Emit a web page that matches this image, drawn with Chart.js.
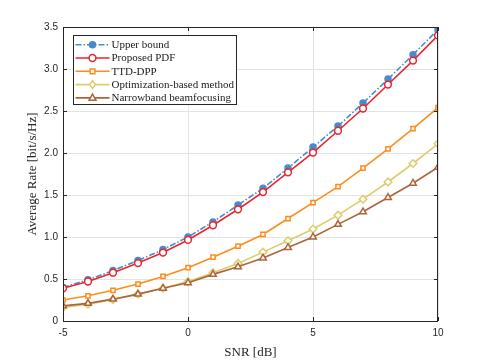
<!DOCTYPE html>
<html>
<head>
<meta charset="utf-8">
<script src="https://cdn.jsdelivr.net/npm/chart.js@4.4.1/dist/chart.umd.min.js"></script>
<style>
  html, body { margin: 0; padding: 0; background: #fff; }
  #wrap { width: 485px; height: 360px; }
</style>
</head>
<body>
<div id="wrap"><canvas id="grafico" width="485" height="360"></canvas></div>
<script>
// Dados (SNR em dB, taxa média em bit/s/Hz)
const SNR = [-5, -4, -3, -2, -1, 0, 1, 2, 3, 4, 5, 6, 7, 8, 9, 10];
const upperBound  = [0.40, 0.49, 0.60, 0.72, 0.85, 1.00, 1.18, 1.38, 1.58, 1.82, 2.07, 2.32, 2.595, 2.88, 3.17, 3.47];
const proposedPDF = [0.39, 0.47, 0.575, 0.69, 0.815, 0.965, 1.14, 1.33, 1.535, 1.77, 2.005, 2.265, 2.53, 2.815, 3.10, 3.40];
const ttdDpp      = [0.25, 0.30, 0.365, 0.44, 0.53, 0.635, 0.76, 0.89, 1.03, 1.22, 1.41, 1.60, 1.82, 2.05, 2.29, 2.54];
const optBased    = [0.16, 0.20, 0.255, 0.32, 0.39, 0.47, 0.575, 0.685, 0.82, 0.955, 1.095, 1.26, 1.45, 1.655, 1.875, 2.11];
const narrowband  = [0.18, 0.21, 0.26, 0.32, 0.39, 0.455, 0.555, 0.645, 0.75, 0.875, 1.00, 1.15, 1.30, 1.47, 1.64, 1.83];

const X_TICKS = [-5, 0, 5, 10];
const Y_TICKS = [0, 0.5, 1, 1.5, 2, 2.5, 3, 3.5];

const SERIF = '"Liberation Serif", "Times New Roman", serif';
const SANS  = '"Liberation Sans", Arial, sans-serif';

const pts = arr => arr.map((v, i) => ({ x: SNR[i], y: v }));

const series = [
  { label: 'Upper bound',               data: upperBound,  cor: '#4a8bc9', marca: 'circle',   raio: 3.0, cheio: true,  traco: [6, 2, 1.5, 2], ordem: 5 },
  { label: 'Proposed PDF',              data: proposedPDF, cor: '#e8262c', marca: 'circle',   raio: 3.4, cheio: false, traco: [],            ordem: 4 },
  { label: 'TTD-DPP',                   data: ttdDpp,      cor: '#ff8c1a', marca: 'rect',     raio: 3.0, cheio: false, traco: [],            ordem: 3 },
  { label: 'Optimization-based method', data: optBased,    cor: '#dccd6c', marca: 'rectRot',  raio: 3.8, cheio: false, traco: [],            ordem: 2 },
  { label: 'Narrowband beamfocusing',   data: narrowband,  cor: '#ac653b', marca: 'triangle', raio: 3.8, cheio: false, traco: [],            ordem: 1 },
];

// desenha o marcador da legenda no mesmo formato dos pontos
function drawMarca(ctx, tipo, r, x, y) {
  if (tipo === 'circle') { ctx.arc(x, y, r, 0, Math.PI * 2); return; }
  if (tipo === 'rect') { ctx.rect(x - r * 0.8, y - r * 0.8, r * 1.6, r * 1.6); return; }
  if (tipo === 'rectRot') {
    ctx.moveTo(x, y - r); ctx.lineTo(x + r * 0.75, y); ctx.lineTo(x, y + r); ctx.lineTo(x - r * 0.75, y); ctx.closePath(); return;
  }
  if (tipo === 'triangle') {
    ctx.moveTo(x, y - r); ctx.lineTo(x + r * 0.9, y + r * 0.6); ctx.lineTo(x - r * 0.9, y + r * 0.6); ctx.closePath();
  }
}

// ── Moldura, marcas internas e legenda (estilo MATLAB) ─────────
const molduraPlugin = {
  id: 'moldura',
  afterDraw(chart) {
    const { ctx, chartArea: a, scales } = chart;
    ctx.save();
    ctx.strokeStyle = '#262626';
    ctx.lineWidth = 1;
    ctx.strokeRect(a.left + 0.5, a.top + 0.5, a.right - a.left - 1, a.bottom - a.top);

    // marcas para dentro
    const L = 4;
    ctx.beginPath();
    X_TICKS.forEach(v => {
      const px = Math.round(scales.x.getPixelForValue(v)) + 0.5;
      ctx.moveTo(px, a.bottom); ctx.lineTo(px, a.bottom - L);
      ctx.moveTo(px, a.top);    ctx.lineTo(px, a.top + L);
    });
    Y_TICKS.forEach(v => {
      const py = Math.round(scales.y.getPixelForValue(v)) + 0.5;
      ctx.moveTo(a.left, py);  ctx.lineTo(a.left + L, py);
      ctx.moveTo(a.right, py); ctx.lineTo(a.right - L, py);
    });
    ctx.stroke();

    // legenda
    const bx = 73.5, by = 35.5, bw = 163, bh = 69, passo = 13.3;
    ctx.fillStyle = '#fff';
    ctx.fillRect(bx, by, bw, bh);
    ctx.strokeStyle = '#262626';
    ctx.strokeRect(bx, by, bw, bh);
    ctx.font = '11px ' + SERIF;
    ctx.textBaseline = 'middle';
    series.forEach((s, i) => {
      const y = by + 9.2 + i * passo;
      ctx.strokeStyle = s.cor;
      ctx.lineWidth = 1.6;
      ctx.setLineDash(s.traco);
      ctx.beginPath(); ctx.moveTo(bx + 2, y); ctx.lineTo(bx + 36, y); ctx.stroke();
      ctx.setLineDash([]);
      ctx.fillStyle = s.cheio ? s.cor : '#fff';
      ctx.lineWidth = 1.5;
      ctx.beginPath();
      drawMarca(ctx, s.marca, s.raio, bx + 19, y);
      ctx.fill(); ctx.stroke();
      ctx.fillStyle = '#1a1a1a';
      ctx.fillText(s.label, bx + 38, y + 0.5);
    });
    ctx.restore();
  }
};

new Chart(document.getElementById('grafico'), {
  type: 'line',
  data: {
    datasets: series.map(s => ({
      label: s.label,
      data: pts(s.data),
      borderColor: s.cor,
      backgroundColor: s.cor,
      borderWidth: 1.6,
      borderDash: s.traco,
      pointStyle: s.marca,
      pointRadius: s.raio,
      pointBorderWidth: 1.5,
      pointBackgroundColor: s.cheio ? s.cor : '#fff',
      pointBorderColor: s.cor,
      tension: 0,
      fill: false,
      order: s.ordem,
    })),
  },
  options: {
    responsive: false,
    animation: false,
    layout: { padding: { top: 27, right: 47, left: 0, bottom: 0 } },
    plugins: {
      legend: { display: false },
      tooltip: { enabled: false },
    },
    scales: {
      x: {
        type: 'linear', min: -5, max: 10,
        afterBuildTicks: sc => { sc.ticks = X_TICKS.map(v => ({ value: v })); },
        afterFit: sc => { sc.height = 39; },
        grid: { color: '#e3e3e3', lineWidth: 1, drawTicks: false },
        border: { display: false },
        ticks: { font: { family: SANS, size: 10 }, color: '#262626', padding: 6, maxRotation: 0 },
        title: { display: true, text: 'SNR [dB]', font: { family: SERIF, size: 13 }, color: '#262626', padding: { top: 4, bottom: 0 } },
      },
      y: {
        min: 0, max: 3.5,
        afterBuildTicks: sc => { sc.ticks = Y_TICKS.map(v => ({ value: v })); },
        afterFit: sc => { sc.width = 63; },
        grid: { color: '#e3e3e3', lineWidth: 1, drawTicks: false },
        border: { display: false },
        ticks: { font: { family: SANS, size: 10 }, color: '#262626', padding: 5 },
        title: { display: true, text: 'Average Rate [bit/s/Hz]', font: { family: SERIF, size: 13 }, color: '#262626', padding: { top: 25, bottom: 0 } },
      },
    },
  },
  plugins: [molduraPlugin],
});
</script>
</body>
</html>
